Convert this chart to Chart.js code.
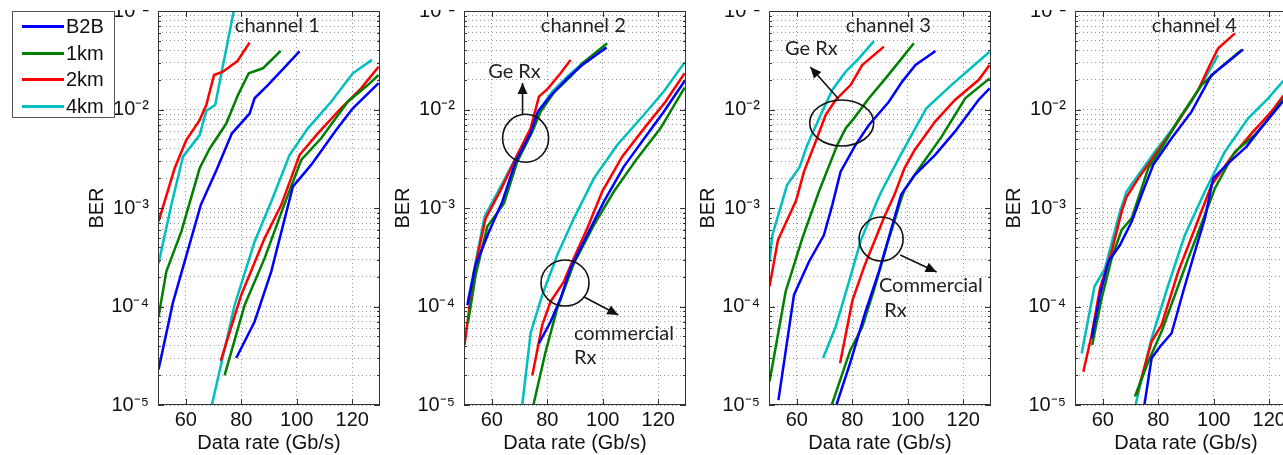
<!DOCTYPE html>
<html>
<head>
<meta charset="utf-8">
<script src="https://cdn.jsdelivr.net/npm/chart.js@4.4.0/dist/chart.umd.min.js"></script>
<style>
  body { margin: 0; width: 1283px; height: 455px; overflow: hidden; background: #fff; position: relative; }
  #clip { position: absolute; left: 0; top: 10px; width: 1283px; height: 445px; overflow: hidden; }
  #clip canvas { position: absolute; top: -30px; }
  #legend { position: absolute; left: 12px; top: 11px; width: 101px; height: 105px; border: 1px solid #555; background: #fff;
            font-family: "Liberation Sans", Arial, sans-serif; font-size: 20px; color: #111; }
  #legend .row { position: relative; height: 26.5px; line-height: 26.5px; padding-left: 53px; }
  #legend .row:first-child { margin-top: 1px; }
  #legend .sw { position: absolute; left: 9px; top: 12px; width: 42px; height: 3px; }
</style>
</head>
<body>
<div id="clip">
  <canvas id="c1" width="301" height="475" style="left:83px"></canvas>
  <canvas id="c2" width="301" height="475" style="left:389px"></canvas>
  <canvas id="c3" width="301" height="475" style="left:694px"></canvas>
  <canvas id="c4" width="301" height="475" style="left:1000px"></canvas>
</div>
<div id="legend"></div>
<script>
// series
const seriesNames = ['B2B', '1km', '2km', '4km'];
const seriesColors = ['#0000ff', '#008000', '#ff0000', '#00bfbf'];

// axis ticks
const xTicks = [60, 80, 100, 120];
const yDecades = [-5, -4, -3, -2, -1];

// channel 1 - Ge Rx [data rate, BER]
const ch1GeB2B = [[50.2,2.3e-5],[55.4,1.1e-4],[65.4,1.07e-3],[71,2.4e-3],[76.6,5.7e-3],[83,9.1e-3],[84.8,1.3e-2],[89.6,1.77e-2],[101,3.9e-2]];
const ch1Ge1km = [[50.2,7.9e-5],[53,2.26e-4],[58.4,5.75e-4],[65,2.53e-3],[68.6,4.0e-3],[74.6,7.2e-3],[78.8,1.4e-2],[82.7,2.33e-2],[87.8,2.62e-2],[94.2,3.93e-2]];
const ch1Ge2km = [[50.2,7.3e-4],[56,2.53e-3],[60.2,4.9e-3],[65,7.8e-3],[67.4,1.11e-2],[70.2,2.24e-2],[73.4,2.42e-2],[78.6,3.1e-2],[83,4.77e-2]];
const ch1Ge4km = [[50.2,2.74e-4],[54.8,1.07e-3],[59,3.32e-3],[65,5.5e-3],[67.4,9.7e-3],[70.6,1.11e-2],[77.3,1e-1]];
// channel 1 - commercial Rx
const ch1ComB2B = [[78.2,3e-5],[84.8,7e-5],[90.8,2.26e-4],[98.6,1.65e-3],[105.2,2.74e-3],[114.2,6.2e-3],[120.2,1.03e-2],[129.5,1.85e-2]];
const ch1Com1km = [[74,2e-5],[81.2,1.03e-4],[88.4,3.08e-4],[95,9.9e-4],[101.6,3.07e-3],[108.8,5.1e-3],[118.4,1.2e-2],[125.6,1.77e-2],[129.5,2.24e-2]];
const ch1Com2km = [[72.6,2.8e-5],[80,1.31e-4],[88.4,4.92e-4],[94.4,1.07e-3],[101,3.45e-3],[107.6,5.73e-3],[116,1.03e-2],[123.2,1.64e-2],[129.5,2.72e-2]];
const ch1Com4km = [[69.4,1e-5],[77.6,1.03e-4],[84.8,4.55e-4],[90.8,1.16e-3],[97.4,3.45e-3],[104,6.44e-3],[112.4,1.2e-2],[120.2,2.33e-2],[127.1,3.19e-2]];

// channel 2
const ch2GeB2B = [[51.2,1.03e-4],[54.2,2.64e-4],[59,5.75e-4],[63.8,1.16e-3],[68.6,2.95e-3],[74,5.73e-3],[76.6,9.5e-3],[81.2,1.38e-2],[87.2,2.07e-2],[92.6,2.83e-2],[101.4,4.25e-2]];
const ch2Ge1km = [[51.4,6.7e-5],[54.2,2.09e-4],[58.4,6.47e-4],[64.4,1.11e-3],[69.2,2.95e-3],[74.6,5.96e-3],[77.6,9.5e-3],[82.4,1.49e-2],[88.4,2.15e-2],[92.6,2.94e-2],[101.6,4.7e-2]];
const ch2Ge2km = [[50.2,4.06e-5],[53.6,2.26e-4],[57.8,7.85e-4],[63.2,1.52e-3],[69.2,3.45e-3],[74,6.44e-3],[77,1.35e-2],[80.3,1.64e-2],[84.8,2.33e-2],[88.4,3.19e-2]];
const ch2Ge4km = [[51.4,1.12e-4],[57.4,8.17e-4],[63.2,1.65e-3],[69.2,3.45e-3],[74.6,6.7e-3],[77.6,1.03e-2],[81.8,1.52e-2],[87.2,2.15e-2],[92.6,2.94e-2],[101,4.35e-2]];
const ch2ComB2B = [[77,4.22e-5],[81.2,7e-5],[84.8,1.21e-4],[88.4,2.44e-4],[93.8,4.92e-4],[100.4,1.16e-3],[107.6,2.63e-3],[115.4,5.3e-3],[122,9.5e-3],[129.5,1.95e-2]];
const ch2Com1km = [[75,1e-5],[79.4,3.47e-5],[83.6,9.57e-5],[89.6,2.74e-4],[96.8,6.7e-4],[104,1.47e-3],[112.4,3.19e-3],[120.8,6.44e-3],[129.5,1.67e-2]];
const ch2Com2km = [[74.6,1.99e-5],[78.2,6.5e-5],[81.2,1.12e-4],[86,1.79e-4],[89,2.85e-4],[94.4,6.2e-4],[99.8,1.47e-3],[107,3.32e-3],[115.4,6.7e-3],[122.6,1.2e-2],[129.5,2.33e-2]];
const ch2Com4km = [[71,1e-5],[74,5.35e-5],[78.2,1.31e-4],[83.6,3.33e-4],[89.6,7.85e-4],[96.8,2e-3],[105.2,4.37e-3],[114.2,8.45e-3],[122,1.52e-2],[129.5,3.01e-2]];

// channel 3
const ch3GeB2B = [[53.4,1.12e-5],[59,1.31e-4],[64.4,2.85e-4],[69.8,5.32e-4],[72.8,1.07e-3],[75.8,2.34e-3],[81.2,4.37e-3],[86,6.97e-3],[93.2,1.2e-2],[98,1.92e-2],[102.8,2.83e-2],[110,3.93e-2]];
const ch3Ge1km = [[50.2,1.73e-5],[56,1.42e-4],[62,4.92e-4],[68,1.47e-3],[74.6,4.37e-3],[77.6,6.44e-3],[80.6,8.13e-3],[86,1.3e-2],[92,2.07e-2],[97.4,3.19e-2],[102.2,4.7e-2]];
const ch3Ge2km = [[50.2,1.6e-4],[53.2,4.7e-4],[59.8,1.2e-3],[62.6,2.34e-3],[66.8,4.71e-3],[70.4,8.8e-3],[74,1.25e-2],[79.4,1.77e-2],[83.6,2.83e-2],[91.4,4.35e-2]];
const ch3Ge4km = [[50.2,2.85e-4],[51.2,5.3e-4],[56.5,1.71e-3],[61,2.6e-3],[63.8,4.37e-3],[68.6,8.8e-3],[72.8,1.58e-2],[77.6,2.42e-2],[82.4,3.3e-2],[87.8,4.95e-2]];
const ch3ComB2B = [[74.3,1e-5],[79.4,2.75e-5],[84.8,8.9e-5],[89.6,2.26e-4],[93.8,5.75e-4],[97.6,1.36e-3],[102.5,2.16e-3],[109.8,3.45e-3],[117,5.96e-3],[125.5,1.25e-2],[129.5,1.64e-2]];
const ch3Com1km = [[72.6,1e-5],[79.3,3.6e-5],[83.6,6.2e-5],[87.8,1.47e-4],[92.7,4.4e-4],[97.5,1.2e-3],[98.8,1.52e-3],[103.7,2.43e-3],[112.2,5.3e-3],[120.7,1.3e-2],[129.5,2.07e-2]];
const ch3Com2km = [[75.6,2.65e-5],[80.1,1.16e-4],[84.3,2.54e-4],[91.6,8.2e-4],[95.2,1.36e-3],[98.8,2.53e-3],[102.5,3.88e-3],[109.8,7.5e-3],[117,1.25e-2],[125.5,1.99e-2],[129.5,2.83e-2]];
const ch3Com4km = [[69.5,3e-5],[74,6.2e-5],[78.3,1.59e-4],[83.1,4.7e-4],[88.6,1.12e-3],[90.5,1.47e-3],[97.1,3.32e-3],[106.7,1.03e-2],[115.7,1.77e-2],[129.5,3.86e-2]];

// channel 4
const ch4GeB2B = [[56,4.75e-5],[59,1.31e-4],[62,2.85e-4],[66.2,4.21e-4],[70.4,7.26e-4],[74,1.36e-3],[78.2,2.74e-3],[84.8,5.1e-3],[92,9.5e-3],[99.2,2.24e-2],[105.2,3.06e-2],[110.6,4.08e-2]];
const ch4Ge1km = [[56.2,4.06e-5],[59.6,1.21e-4],[63.2,3.08e-4],[66.8,5.98e-4],[70.4,7.85e-4],[76.4,2.53e-3],[81.2,4.04e-3],[87.2,7.8e-3],[95.6,1.77e-2],[102.8,2.72e-2],[110,4.02e-2]];
const ch4Ge2km = [[53,2.18e-5],[56,5.14e-5],[59,1.53e-4],[63.2,3.6e-4],[66.8,9.18e-4],[68.6,1.3e-3],[72.8,2e-3],[78.8,3.45e-3],[86,6.7e-3],[94.4,1.58e-2],[98.6,2.83e-2],[101.6,4.18e-2],[107.6,5.93e-2]];
const ch4Ge4km = [[52.4,3.34e-5],[57,1.59e-4],[60.8,2.44e-4],[66.2,9.18e-4],[68.6,1.47e-3],[72.8,2.16e-3],[78.8,3.73e-3],[84.8,6.2e-3],[92,1.2e-2],[101.6,3.57e-2]];
const ch4ComB2B = [[75,1e-5],[77.6,2.98e-5],[80.6,3.91e-5],[84.8,5.35e-5],[89,1.42e-4],[93.2,3.6e-4],[96.8,7.85e-4],[99.8,2e-3],[105.2,2.84e-3],[111.8,4.2e-3],[116,5.96e-3],[124.8,1.2e-2],[130,1.6e-2]];
const ch4Com1km = [[71.6,1.22e-5],[76.4,2.75e-5],[81.2,5.56e-5],[86,1.31e-4],[90.8,3.08e-4],[96.8,8.5e-4],[100.4,1.58e-3],[107.6,3.73e-3],[114.8,5.5e-3],[120.8,8.8e-3],[124.8,1.25e-2],[130,1.7e-2]];
const ch4Com2km = [[72.2,1.26e-5],[77.6,4.4e-5],[81.2,6.5e-5],[87.2,2.26e-4],[93.2,6.2e-4],[99.2,1.71e-3],[106.4,3.32e-3],[114.2,5.96e-3],[120.8,9.5e-3],[124.8,1.35e-2],[130,1.8e-2]];
const ch4Com4km = [[71.8,1e-5],[77.6,4.75e-5],[83.6,1.65e-4],[89.6,5.32e-4],[96.8,1.47e-3],[104,3.73e-3],[112.4,8.13e-3],[119.6,1.3e-2],[124.8,1.92e-2],[130,2.5e-2]];

const panels = [
  { id: 'c1', title: 'channel 1', ge: [ch1GeB2B, ch1Ge1km, ch1Ge2km, ch1Ge4km], com: [ch1ComB2B, ch1Com1km, ch1Com2km, ch1Com4km], notes: null },
  { id: 'c2', title: 'channel 2', ge: [ch2GeB2B, ch2Ge1km, ch2Ge2km, ch2Ge4km], com: [ch2ComB2B, ch2Com1km, ch2Com2km, ch2Com4km],
    notes: {
      texts: [{ x: 58.7, y: 0.0245, t: 'Ge Rx' }, { x: 89.6, y: 5.26e-5, t: 'commercial' }, { x: 89.6, y: 3.0e-5, t: 'Rx' }],
      circles: [{ x: 72.2, y: 5.1e-3, rx: 23, ry: 24 }, { x: 86.4, y: 1.73e-4, rx: 24, ry: 23 }],
      arrows: [{ x1: 71.1, y1: 8.8e-3, x2: 71.1, y2: 1.86e-2 }, { x1: 93.3, y1: 1.25e-4, x2: 105.6, y2: 8.2e-5 }]
    } },
  { id: 'c3', title: 'channel 3', ge: [ch3GeB2B, ch3Ge1km, ch3Ge2km, ch3Ge4km], com: [ch3ComB2B, ch3Com1km, ch3Com2km, ch3Com4km],
    notes: {
      texts: [{ x: 55.8, y: 0.0411, t: 'Ge Rx' }, { x: 89.6, y: 1.65e-4, t: 'Commercial' }, { x: 91.5, y: 9.0e-5, t: 'Rx' }],
      circles: [{ x: 76.2, y: 7.3e-3, rx: 32, ry: 23 }, { x: 90.4, y: 4.84e-4, rx: 22, ry: 22 }],
      arrows: [{ x1: 75.1, y1: 1.28e-2, x2: 64.9, y2: 2.7e-2 }, { x1: 97.3, y1: 3.33e-4, x2: 110.4, y2: 2.24e-4 }]
    } },
  { id: 'c4', title: 'channel 4', ge: [ch4GeB2B, ch4Ge1km, ch4Ge2km, ch4Ge4km], com: [ch4ComB2B, ch4Com1km, ch4Com2km, ch4Com4km], notes: null }
];

const tickFont = { family: '"Liberation Sans", Arial, sans-serif', size: 20 };
const noteFont = '20px Lato, "Open Sans", sans-serif';

const supMap = { '-': '\u207B', '0': '\u2070', '1': '\u00B9', '2': '\u00B2', '3': '\u00B3', '4': '\u2074', '5': '\u2075', '6': '\u2076', '7': '\u2077', '8': '\u2078', '9': '\u2079' };
function sup(n) { return String(n).split('').map(c => supMap[c]).join(''); }

const yTickValues = [];
yDecades.forEach(e => {
  for (let m = 1; m <= 9; m++) {
    if (e === yDecades[yDecades.length - 1] && m > 1) break;
    yTickValues.push(m * Math.pow(10, e));
  }
});

function arrowHead(ctx, x1, y1, x2, y2) {
  const a = Math.atan2(y2 - y1, x2 - x1);
  const len = 11, half = 5;
  ctx.beginPath();
  ctx.moveTo(x2, y2);
  ctx.lineTo(x2 - len * Math.cos(a) + half * Math.sin(a), y2 - len * Math.sin(a) - half * Math.cos(a));
  ctx.lineTo(x2 - len * Math.cos(a) - half * Math.sin(a), y2 - len * Math.sin(a) + half * Math.cos(a));
  ctx.closePath();
  ctx.fill();
}

// frame, inner tick marks, titles and annotations
const framePlugin = {
  id: 'frame',
  afterDatasetsDraw(chart, args, opts) {
    const { ctx, chartArea: a, scales: { x, y } } = chart;
    ctx.save();
    ctx.strokeStyle = '#333';
    ctx.lineWidth = 1;
    ctx.strokeRect(a.left + 0.5, a.top + 0.5, a.right - a.left - 1, a.bottom - a.top - 1);
    ctx.beginPath();
    y.ticks.forEach(t => {
      const py = Math.round(y.getPixelForValue(t.value)) + 0.5;
      const major = Math.abs(Math.log10(t.value) - Math.round(Math.log10(t.value))) < 1e-6;
      const len = major ? 6 : 3;
      ctx.moveTo(a.left, py); ctx.lineTo(a.left + len, py);
      ctx.moveTo(a.right, py); ctx.lineTo(a.right - len, py);
    });
    x.ticks.forEach(t => {
      const px = Math.round(x.getPixelForValue(t.value)) + 0.5;
      ctx.moveTo(px, a.bottom); ctx.lineTo(px, a.bottom - 6);
      ctx.moveTo(px, a.top); ctx.lineTo(px, a.top + 6);
    });
    ctx.stroke();

    ctx.fillStyle = '#222';
    ctx.font = noteFont;
    ctx.textBaseline = 'middle';
    ctx.textAlign = 'center';
    ctx.fillText(opts.title, x.getPixelForValue(93), y.getPixelForValue(0.0705));

    const n = opts.notes;
    if (n) {
      ctx.textAlign = 'left';
      n.texts.forEach(t => ctx.fillText(t.t, x.getPixelForValue(t.x), y.getPixelForValue(t.y)));
      ctx.strokeStyle = '#111';
      ctx.fillStyle = '#111';
      ctx.lineWidth = 1.6;
      n.circles.forEach(c => {
        ctx.beginPath();
        ctx.ellipse(x.getPixelForValue(c.x), y.getPixelForValue(c.y), c.rx, c.ry, 0, 0, Math.PI * 2);
        ctx.stroke();
      });
      n.arrows.forEach(r => {
        const x1 = x.getPixelForValue(r.x1), y1 = y.getPixelForValue(r.y1);
        const x2 = x.getPixelForValue(r.x2), y2 = y.getPixelForValue(r.y2);
        ctx.beginPath();
        ctx.moveTo(x1, y1); ctx.lineTo(x2, y2);
        ctx.stroke();
        arrowHead(ctx, x1, y1, x2, y2);
      });
    }
    ctx.restore();
  }
};

function makeDatasets(groups) {
  const ds = [];
  groups.forEach(g => g.forEach((pts, i) => {
    ds.push({ label: seriesNames[i], data: pts, borderColor: seriesColors[i], borderWidth: 2.5,
              pointRadius: 0, tension: 0, fill: false });
  }));
  return ds;
}

panels.forEach(p => {
  new Chart(document.getElementById(p.id), {
    type: 'line',
    data: { datasets: makeDatasets([p.ge, p.com]) },
    options: {
      responsive: false,
      animation: false,
      devicePixelRatio: 1,
      layout: { padding: { top: 31, right: 4, left: 0, bottom: 0 } },
      plugins: {
        legend: { display: false },
        tooltip: { enabled: false },
        frame: { title: p.title, notes: p.notes }
      },
      scales: {
        x: {
          type: 'linear', min: 50, max: 130,
          afterBuildTicks: s => { s.ticks = xTicks.map(v => ({ value: v })); },
          afterFit: s => { s.height = 50; },
          ticks: { font: tickFont, color: '#111', padding: 3, maxRotation: 0, autoSkip: false },
          grid: { color: 'rgba(0,0,0,0.4)', lineWidth: 1, drawTicks: false },
          border: { display: false, dash: [1, 3] },
          title: { display: true, text: 'Data rate (Gb/s)', font: tickFont, color: '#111', padding: { top: 0, bottom: 0 } }
        },
        y: {
          type: 'logarithmic', min: 1e-5, max: 1e-1,
          afterBuildTicks: s => { s.ticks = yTickValues.map(v => ({ value: v })); },
          afterFit: s => { s.width = 75; },
          ticks: {
            font: tickFont, color: '#111', padding: 9, autoSkip: false,
            callback: v => {
              const e = Math.log10(v), r = Math.round(e);
              return Math.abs(e - r) < 1e-6 ? '10' + sup(r) : '';
            }
          },
          grid: { color: 'rgba(0,0,0,0.4)', lineWidth: 1, drawTicks: false },
          border: { display: false, dash: [1, 3] },
          title: { display: true, text: 'BER', font: tickFont, color: '#111', padding: { top: 2, bottom: 0 } }
        }
      }
    },
    plugins: [framePlugin]
  });
});

// legend
const legend = document.getElementById('legend');
seriesNames.forEach((name, i) => {
  const row = document.createElement('div');
  row.className = 'row';
  row.innerHTML = '<span class="sw" style="background:' + seriesColors[i] + '"></span>' + name;
  legend.appendChild(row);
});
</script>
</body>
</html>
